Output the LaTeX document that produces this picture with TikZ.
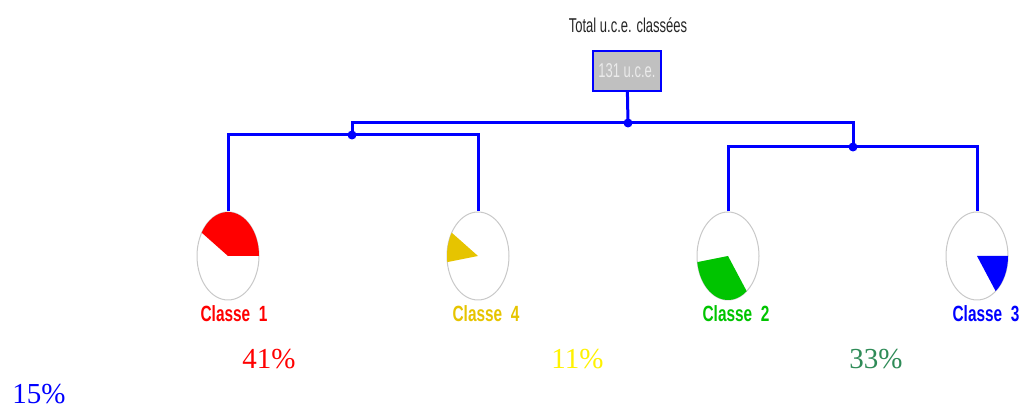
\documentclass[tikz,border=0pt]{standalone}
\usepackage{fontspec}
\setmainfont{Liberation Serif}
\newfontfamily\narrowsans[FakeStretch=0.65]{Liberation Sans}
\newfontfamily\labelsans[FakeStretch=0.7]{Liberation Sans}
\usepackage{tikz}
\usetikzlibrary{shapes,arrows,positioning}
\definecolor{pieyellow}{RGB}{230,196,0}
\definecolor{piegreen}{RGB}{0,196,0}
\definecolor{pctgreen}{RGB}{46,139,87}
\definecolor{boxgray}{RGB}{192,192,192}
\definecolor{rimgray}{RGB}{200,200,200}
\tikzset{
  link/.style={blue, line width=3pt},
  pie/.style={ellipse, draw=rimgray, line width=1pt, inner sep=0pt, minimum width=62pt, minimum height=88pt},
  classlbl/.style={font=\labelsans\bfseries\fontsize{22}{22}\selectfont, inner sep=0pt},
  pct/.style={font=\fontsize{29}{29}\selectfont, inner sep=0pt}
}

\begin{document}
\begin{tikzpicture}[x=1pt,y=1pt]
  \useasboundingbox (0,0) rectangle (1020,409);
  % top box
  \node[font=\narrowsans\fontsize{20}{20}\selectfont, text=black!85, inner sep=0pt] (title) at (628,384) {Total u.c.e. classées};
  \node[draw=blue, line width=1.5pt, fill=boxgray, text=white!92!black, minimum width=68pt, minimum height=40pt, inner sep=0pt, font=\narrowsans\fontsize{20}{20}\selectfont] (root) at (627,338) {131 u.c.e.};
  % pies
  \node[pie] (c1) at (228,153) {};
  \node[pie] (c4) at (478,153) {};
  \node[pie] (c2) at (728,153) {};
  \node[pie] (c3) at (977,153) {};
  \fill[red] (c1.center) -- ++(0:31 and 44) arc[start angle=0, end angle=148, x radius=31, y radius=44] -- cycle;
  \fill[pieyellow] (c4.center) -- ++(148:31 and 44) arc[start angle=148, end angle=188, x radius=31, y radius=44] -- cycle;
  \fill[piegreen] (c2.center) -- ++(188:31 and 44) arc[start angle=188, end angle=307, x radius=31, y radius=44] -- cycle;
  \fill[blue] (c3.center) -- ++(307:31 and 44) arc[start angle=307, end angle=360, x radius=31, y radius=44] -- cycle;
  % tree
  \coordinate (j0) at (628,286);
  \coordinate (jL) at (352,274);
  \coordinate (jR) at (853,262);
  \draw[link] (root) -- (j0);
  \draw[link] (jL) |- (j0) -| (jR);
  \draw[link] (c1.north) |- (jL) -| (c4.north);
  \draw[link] (c2.north) |- (jR) -| (c3.north);
  \fill[blue] (j0) circle (4.5) (jL) circle (4.5) (jR) circle (4.5);
  % labels
  \node[classlbl, text=red] (l1) at (234,95.5) {Classe\ \ 1};
  \node[classlbl, text=pieyellow] (l4) at (486,95.5) {Classe\ \ 4};
  \node[classlbl, text=piegreen] (l2) at (736,95.5) {Classe\ \ 2};
  \node[classlbl, text=blue] (l3) at (986,95.5) {Classe\ \ 3};
  \node[pct, text=red] (p1) at (269,50) {41\%};
  \node[pct, text=yellow] (p4) at (577.5,50) {11\%};
  \node[pct, text=pctgreen] (p2) at (876,50) {33\%};
  \node[pct, text=blue] (p3) at (39,14.5) {15\%};
\end{tikzpicture}
\end{document}
